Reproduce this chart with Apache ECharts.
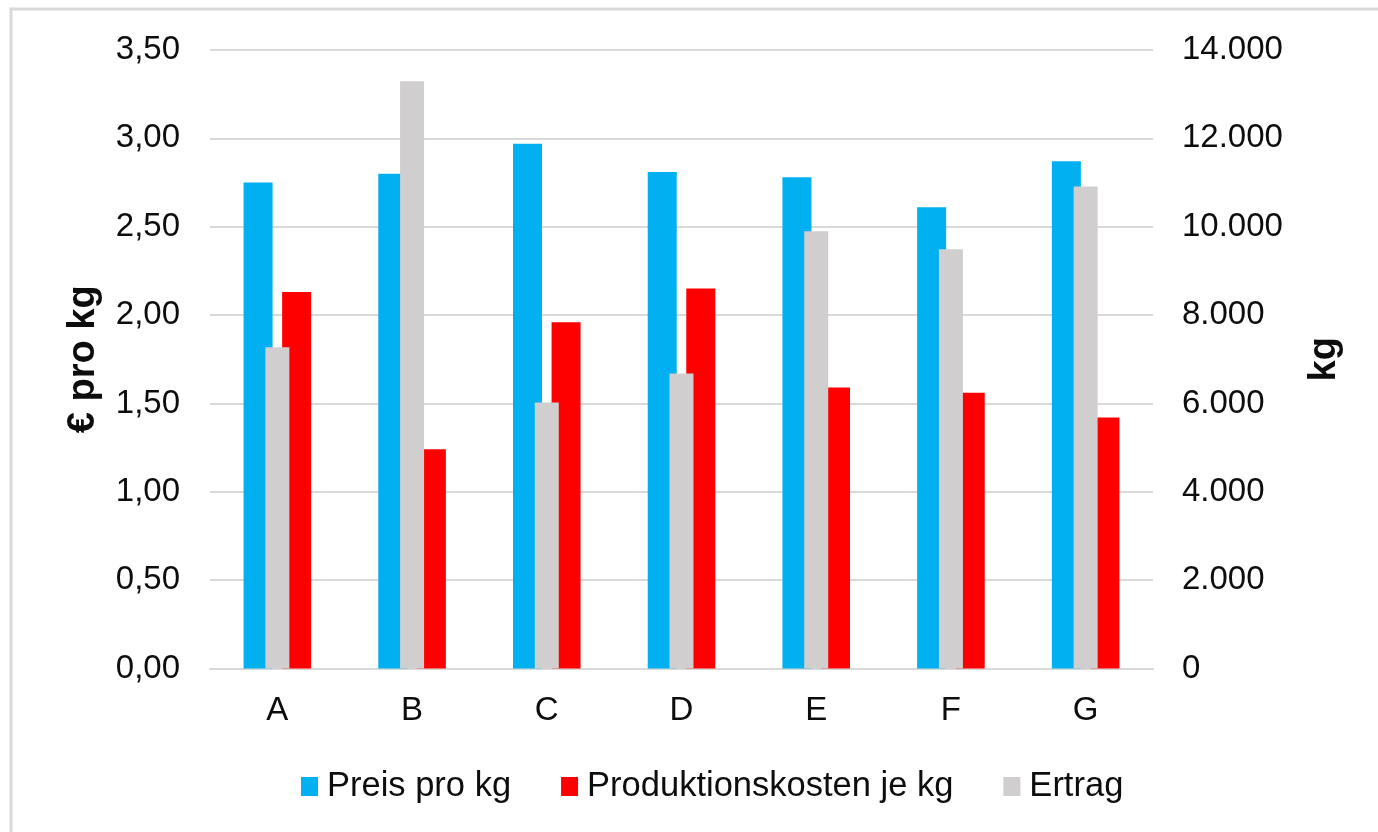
<!DOCTYPE html>
<html>
<head>
<meta charset="utf-8">
<title>Preis, Produktionskosten und Ertrag</title>
<script src="https://cdn.jsdelivr.net/npm/echarts@6/dist/echarts.min.js"></script>
<style>
  html, body { margin: 0; padding: 0; background: #ffffff; }
  #chart { width: 1378px; height: 832px; }
</style>
</head>
<body>
<div id="chart"></div>
<script>
// Betriebe A–G
const categories = ['A', 'B', 'C', 'D', 'E', 'F', 'G'];

// € pro kg (linke Achse)
const preisProKg = [2.75, 2.80, 2.97, 2.81, 2.78, 2.61, 2.87];
const produktionskostenJeKg = [2.13, 1.24, 1.96, 2.15, 1.59, 1.56, 1.42];

// Ertrag in kg (rechte Achse)
const ertragKg = [7270, 13290, 6020, 6680, 9900, 9490, 10910];

// Achsenteilung
const euroTicks = [0, 0.5, 1, 1.5, 2, 2.5, 3, 3.5];
const kgTicks = [0, 2000, 4000, 6000, 8000, 10000, 12000, 14000];

const seriesNames = ['Preis pro kg', 'Produktionskosten je kg', 'Ertrag'];
const colors = { preis: '#00B0F0', kosten: '#FF0000', ertrag: '#D0CECE' };

const FONT = "'Liberation Sans', Arial, sans-serif";
const TEXT = '#0d0d0d';
const GRID = '#D9D9D9';

function euroLabel(v) {
  return v.toFixed(2).replace('.', ',');
}
function kgLabel(v) {
  return String(Math.round(v)).replace(/\B(?=(\d{3})+(?!\d))/g, '.');
}

const chart = echarts.init(document.getElementById('chart'), null, { renderer: 'canvas' });

chart.setOption({
  animation: false,
  backgroundColor: '#ffffff',
  textStyle: { fontFamily: FONT },
  graphic: [{
    type: 'rect',
    shape: { x: 11, y: 9, width: 1420, height: 900 },
    style: { fill: 'none', stroke: GRID, lineWidth: 3 },
    silent: true
  }],
  grid: { left: 210, right: 225, top: 50, bottom: 163.5, containLabel: false },
  legend: {
    data: seriesNames,
    left: 296,
    top: 764,
    icon: 'rect',
    itemWidth: 17,
    itemHeight: 19,
    itemGap: 50,
    textStyle: { fontFamily: FONT, fontSize: 34.5, color: TEXT, padding: [0, 0, 0, 4] }
  },
  xAxis: [{
    type: 'category',
    data: categories,
    axisLine: { show: true, lineStyle: { color: GRID, width: 2 } },
    axisTick: { show: false },
    axisLabel: { fontFamily: FONT, fontSize: 33, color: TEXT, margin: 26 },
    splitLine: { show: false }
  }, {
    type: 'category',
    data: categories,
    show: false
  }],
  yAxis: [{
    type: 'value',
    min: euroTicks[0],
    max: euroTicks[euroTicks.length - 1],
    interval: euroTicks[1] - euroTicks[0],
    name: '€ pro kg',
    nameLocation: 'middle',
    nameRotate: 90,
    nameGap: 107,
    nameTextStyle: { fontFamily: FONT, fontSize: 38, fontWeight: 'bold', color: TEXT },
    axisLine: { show: false },
    axisTick: { show: false },
    axisLabel: { fontFamily: FONT, fontSize: 33, color: TEXT, margin: 30, formatter: euroLabel },
    splitLine: { show: true, lineStyle: { color: GRID, width: 2 } }
  }, {
    type: 'value',
    min: kgTicks[0],
    max: kgTicks[kgTicks.length - 1],
    interval: kgTicks[1] - kgTicks[0],
    position: 'right',
    name: 'kg',
    nameLocation: 'middle',
    nameRotate: 90,
    nameGap: 153,
    nameTextStyle: { fontFamily: FONT, fontSize: 38, fontWeight: 'bold', color: TEXT },
    axisLine: { show: false },
    axisTick: { show: false },
    axisLabel: { fontFamily: FONT, fontSize: 33, color: TEXT, margin: 29, align: 'left', formatter: kgLabel },
    splitLine: { show: false }
  }],
  series: [{
    name: seriesNames[0],
    type: 'bar',
    xAxisIndex: 0,
    yAxisIndex: 0,
    data: preisProKg,
    barWidth: 29,
    barGap: '33%',
    itemStyle: { color: colors.preis }
  }, {
    name: seriesNames[1],
    type: 'bar',
    xAxisIndex: 0,
    yAxisIndex: 0,
    data: produktionskostenJeKg,
    barWidth: 29,
    barGap: '33%',
    itemStyle: { color: colors.kosten }
  }, {
    name: seriesNames[2],
    type: 'bar',
    xAxisIndex: 1,
    yAxisIndex: 1,
    data: ertragKg,
    barWidth: 24,
    itemStyle: { color: colors.ertrag }
  }]
});
</script>
</body>
</html>
